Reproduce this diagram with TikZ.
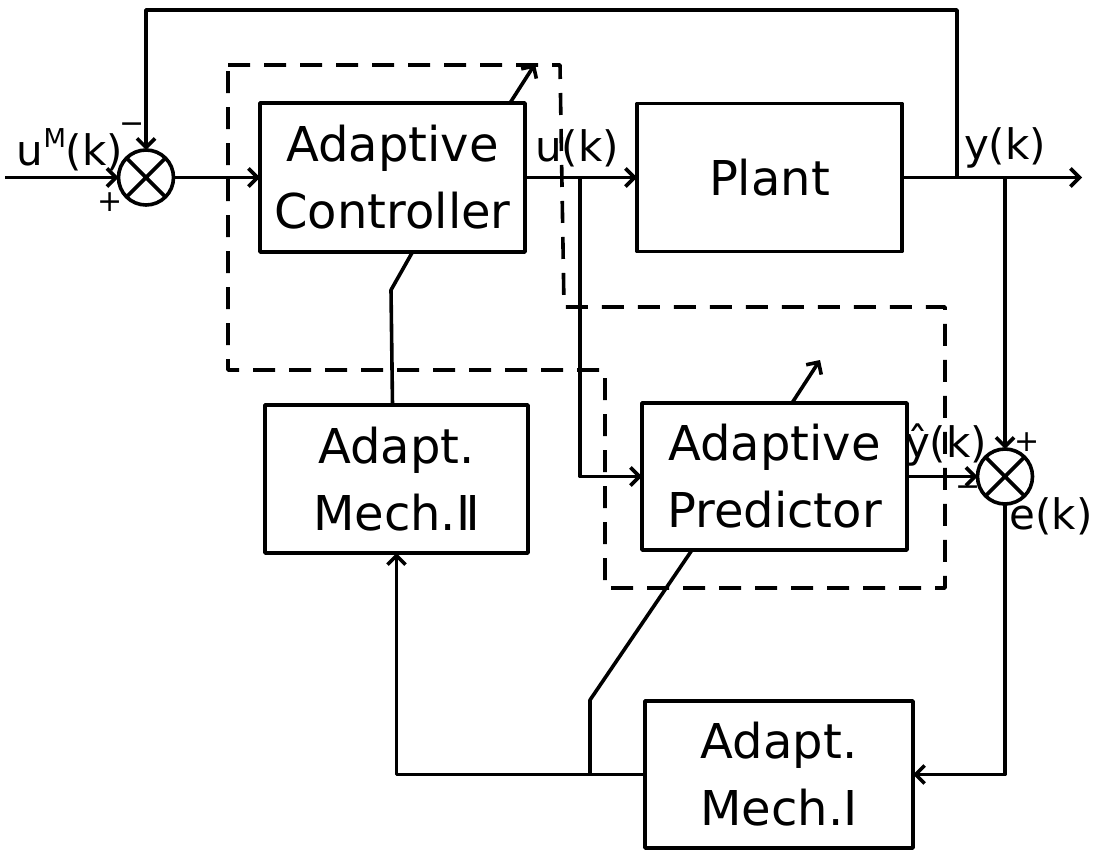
\documentclass[tikz,border=0pt]{standalone}
\usepackage{fontspec}
\setmainfont{DejaVu Sans}
\usetikzlibrary{arrows.meta,calc}
\begin{document}
\begin{tikzpicture}[x=1pt,y=-1pt,
  line width=3.6pt, line join=round,
  block/.style={draw, rectangle, inner sep=0pt, outer sep=0pt, align=center,
    font=\fontsize{48}{67}\selectfont},
  sumnode/.style={draw, circle, minimum size=55pt, inner sep=0pt, outer sep=0pt},
  lbl/.style={font=\fontsize{42}{42}\selectfont, inner sep=0pt},
  sgn/.style={font=\fontsize{30}{30}\selectfont, inner sep=0pt},
  arr/.style={-{Straight Barb[length=9pt,width=18pt]}},
  dashbox/.style={dash pattern=on 22pt off 14pt}
]
\fill[white] (0,0) rectangle (1099,851);
\useasboundingbox (0,0) rectangle (1099,851);

% blocks
\node[block, minimum width=265pt, minimum height=149pt] (ctrl) at (392.5,177.5) {Adaptive\\Controller};
\node[block, minimum width=265pt, minimum height=148pt] (plant) at (769.5,177.5) {Plant};
\node[block, minimum width=265pt, minimum height=147pt] (pred) at (774.5,476.5) {Adaptive\\Predictor};
\node[block, minimum width=263pt, minimum height=148pt] (mech2) at (396.5,479) {Adapt.\\Mech.Ⅱ};
\node[block, minimum width=268pt, minimum height=147pt] (mech1) at (779,774.5) {Adapt.\\Mech.Ⅰ};

% summing junctions
\node[sumnode] (sum1) at (146,177.5) {};
\draw (sum1.north west) -- (sum1.south east) (sum1.north east) -- (sum1.south west);
\node[sumnode] (sum2) at (1005,476.5) {};
\draw (sum2.north west) -- (sum2.south east) (sum2.north east) -- (sum2.south west);

% coordinates
\coordinate (in) at (5,177.5);
\coordinate (ubr) at (580,177.5);
\coordinate (yout) at (1082,177.5);
\coordinate (ytap) at (957,177.5);
\coordinate (topr) at (957,10);
\coordinate (etap) at (1005,177.5);
\coordinate (bend1) at (590,700);
\coordinate (bjoin) at (590,774.5);
\coordinate (bend2) at (391,290);
\coordinate (cparam) at (535,64);
\coordinate (pparam) at (820,360);

% signal lines
\draw[arr] (in) -- (sum1.west);
\draw[arr] (sum1.east) -- (ctrl.west);
\draw[arr] (ctrl.east) -- (plant.west);
\draw[arr] (ubr) |- (pred.west);
\draw[arr] (plant.east) -- (yout);
\draw[arr] (ytap) -- (topr) -| (sum1.north);
\draw[arr] (etap) -- (sum2.north);
\draw[arr] (pred.east) -- (sum2.west);
\draw[arr] (sum2.south) |- (mech1.east);
\draw[arr] (mech1.west) -| (mech2.south);
\draw ([xshift=50pt]pred.south west) -- (bend1) -- (bjoin);
\draw ([xshift=-4pt]mech2.north) -- (bend2) -- ([xshift=20pt]ctrl.south);

% parameter adjustment arrows
\draw[arr] ([xshift=250pt]ctrl.north west) -- (cparam);
\draw[arr] ([xshift=150pt]pred.north west) -- (pparam);

% dashed outline
\draw[dashbox] (228,65) -- (560,65) -- (564,307) -- (945,307) -- (945,588)
  -- (605,588) -- (605,370) -- (228,370) -- cycle;

% labels
\node[lbl] (luM) at (70,150) {u\raisebox{0.42em}{\fontsize{26}{26}\selectfont M}(k)};
\node[sgn] (m1) at (132,128) {−};
\node[sgn] (p1) at (110,202) {+};
\node[lbl] (lu) at (577,148) {u(k)};
\node[lbl] (ly) at (1005,148) {y(k)};
\node[lbl] (lyh) at (946,445) {ŷ(k)};
\node[lbl] (le) at (1051,516) {e(k)};
\node[sgn] (p2) at (1027,442) {+};
\node[sgn] (m2) at (968,491) {−};
\end{tikzpicture}
\end{document}
